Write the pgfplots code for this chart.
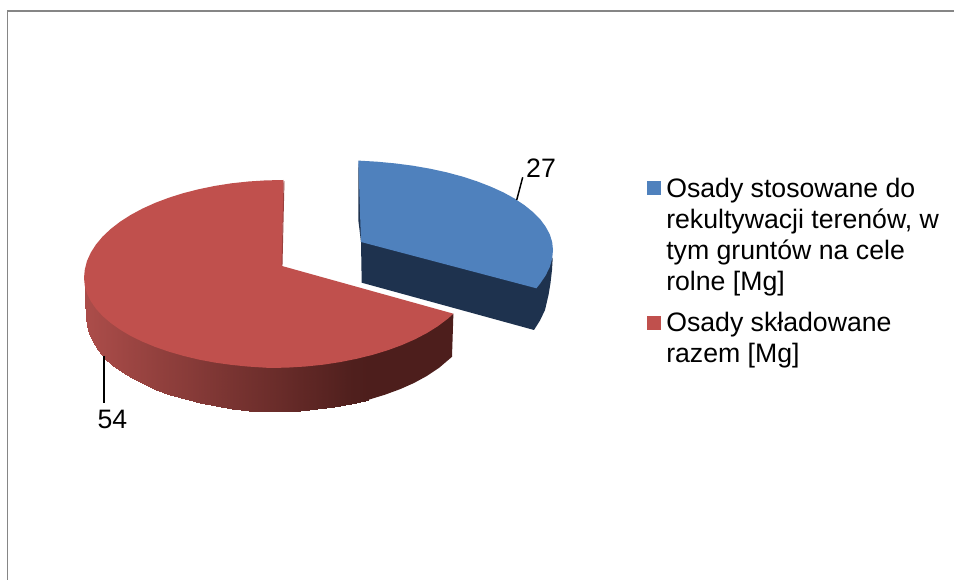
\documentclass[border=0pt]{standalone}
\usepackage{pgfplots}
\pgfplotsset{compat=1.18}
\usepackage{fontspec}
\setmainfont{Liberation Sans}
\definecolor{blueTop}{RGB}{79,129,189}
\definecolor{blueSide}{RGB}{30,50,78}
\definecolor{redTop}{RGB}{192,80,77}
\definecolor{redDark}{RGB}{77,30,28}
\definecolor{frameGrey}{RGB}{134,134,134}
\newcommand{\lab}[1]{\fontsize{20}{23}\selectfont #1}
\begin{document}
\begin{tikzpicture}
\begin{axis}[
  scale only axis, width=715.5pt, height=435pt,
  xmin=0, xmax=954, ymin=0, ymax=580, y dir=reverse,
  hide axis, clip=true,
  colormap={redside}{rgb255=(170,76,73) rgb255=(77,30,28)},
  colormap name=redside,
  point meta min=0, point meta max=1,
]
% page
\addplot[fill=white, draw=none, forget plot] coordinates {(0,0)(954,0)(954,580)(0,580)};
% frame
\addplot[draw=frameGrey, line width=1.3pt, forget plot] coordinates {(7.5,580)(7.5,11)(954,11)};
% blue slice: 27
\addplot[fill=blueSide, draw=none] coordinates {(358.3,161)(358.3,220)(361,242)(361.7,282.7)(534,330)(540,320.5)(545,310)(548.5,295)(550.5,283)(552,270)(552.7,258)(536,270)(361,200)};
\addplot[fill=blueTop, draw=none] coordinates {(358.3,160.6)(377,161.7)(395.1,163.4)(412.8,165.7)(430,168.7)(446.5,172.3)(462.2,176.5)(476.9,181.3)(490.6,186.6)(503.2,192.3)(514.5,198.5)(524.5,205.2)(533,212.1)(540.2,219.3)(545.7,226.8)(549.8,234.4)(552.2,242.2)(553,250)(552.2,258.5)(549.8,267)(545.7,275.4)(540.2,283.5)(536.4,288.3)(361,242)};
% red slice: 54, side wall
\addplot[patch, patch type=rectangle, shader=interp, point meta=explicit, forget plot] table[meta=c] {
x y c
85 284 0
86 288 0
86 318 0
85 300 0
86 288 0
86.7 291 0
86.7 326.2 0
86 318 0
86.7 291 0
89 296 0
89 334.3 0
86.7 326.2 0
89 296 0
92.7 302 0.01
92.7 342.3 0.01
89 334.3 0
92.7 302 0.01
97.9 309 0.03
97.9 350.1 0.03
92.7 342.3 0.01
97.9 309 0.03
104.5 316 0.05
104.5 357.7 0.05
97.9 350.1 0.03
104.5 316 0.05
112.4 322 0.08
112.4 365 0.08
104.5 357.7 0.05
112.4 322 0.08
121.6 328 0.12
121.6 371.9 0.12
112.4 365 0.08
121.6 328 0.12
132.1 335 0.16
132.1 378.4 0.16
121.6 371.9 0.12
132.1 335 0.16
143.7 340 0.20
143.7 384.5 0.20
132.1 378.4 0.16
143.7 340 0.20
156.4 345 0.25
156.4 390 0.25
143.7 384.5 0.20
156.4 345 0.25
170 350 0.30
170 395 0.30
156.4 390 0.25
170 350 0.30
184.5 354 0.35
184.5 399.4 0.35
170 395 0.30
184.5 354 0.35
199.7 358 0.41
199.7 403.2 0.41
184.5 399.4 0.35
199.7 358 0.41
215.6 361 0.47
215.6 406.3 0.47
199.7 403.2 0.41
215.6 361 0.47
232 363 0.53
232 408.8 0.53
215.6 406.3 0.47
232 363 0.53
248.8 365 0.59
248.8 410.6 0.59
232 408.8 0.53
248.8 365 0.59
265.8 366 0.65
265.8 411.6 0.65
248.8 410.6 0.59
265.8 366 0.65
283 366 0.71
283 412 0.71
265.8 411.6 0.65
283 366 0.71
300 364 0.78
300 411 0.78
283 412 0.71
300 364 0.78
317 362 0.84
317 409.3 0.84
300 411 0.78
317 362 0.84
334 359 0.90
334 407 0.90
317 409.3 0.84
334 359 0.90
351 356 0.97
351 403.8 0.97
334 407 0.90
351 356 0.97
368.5 352 1
368.5 399.8 1
351 403.8 0.97
};
\addplot[fill=redDark, draw=none, forget plot] coordinates {(368,350)(387.6,348)(401.8,343)(415,337)(427,331)(437.9,324)(447.5,317)(453.4,313.7)(452,356.8)(439,367.9)(427,375.9)(414,383)(400,389.2)(385,394.7)(368,399.9)};
% red slice: top
\addplot[fill=redTop, draw=none] coordinates {(283.5,180)(265.6,180.4)(248.4,181.5)(231.5,183.3)(214.9,185.9)(198.9,189.2)(183.5,193.1)(168.9,197.7)(155.1,202.9)(142.3,208.7)(130.6,215)(120,221.8)(110.7,229)(102.6,236.6)(96,244.5)(90.8,252.6)(87,261)(84.8,269.5)(84,278)(84.8,285.8)(87,293.6)(90.8,301.3)(96,308.8)(102.6,316)(110.7,323)(120,329.6)(130.6,335.9)(142.3,341.6)(155.1,346.9)(168.9,351.7)(183.5,355.9)(198.9,359.6)(214.9,362.6)(231.5,364.9)(248.4,366.6)(265.6,367.7)(270,368)(287.9,367.6)(305.6,366.5)(323.1,364.7)(340.1,362.1)(356.6,358.8)(372.5,354.9)(387.6,350.3)(401.8,345.1)(415,339.3)(427,333)(437.9,326.2)(447.5,319)(453.4,313.7)(282,266)};
\addplot[draw=redTop!80!black, line width=0.7pt, forget plot] coordinates {(284,181)(282,265.5)};
% leader lines
\addplot[draw=black, line width=1.1pt, forget plot] coordinates {(103.8,356)(103.8,403)};
\addplot[draw=black, line width=1.1pt, forget plot] coordinates {(516.7,200)(522.7,177.3)};
% legend keys
\addplot[fill=blueTop, draw=none, forget plot] coordinates {(647.3,181)(661,181)(661,195)(647.3,195)};
\addplot[fill=redTop, draw=none, forget plot] coordinates {(647.3,316)(661,316)(661,330)(647.3,330)};
% labels
\node[anchor=base, inner sep=0pt] at (axis cs:541,178) {\lab{27}};
\node[anchor=base, inner sep=0pt] at (axis cs:112.5,429) {\lab{54}};
\node[anchor=base west, inner sep=0pt] at (axis cs:666,197.7) {\lab{Osady stosowane do}};
\node[anchor=base west, inner sep=0pt] at (axis cs:666,228.7) {\lab{rekultywacji terenów, w}};
\node[anchor=base west, inner sep=0pt] at (axis cs:666,259.5) {\lab{tym gruntów na cele}};
\node[anchor=base west, inner sep=0pt] at (axis cs:666,290.2) {\lab{rolne [Mg]}};
\node[anchor=base west, inner sep=0pt] at (axis cs:666,331.7) {\lab{Osady składowane}};
\node[anchor=base west, inner sep=0pt] at (axis cs:666,362.7) {\lab{razem [Mg]}};
\end{axis}
\end{tikzpicture}
\end{document}
